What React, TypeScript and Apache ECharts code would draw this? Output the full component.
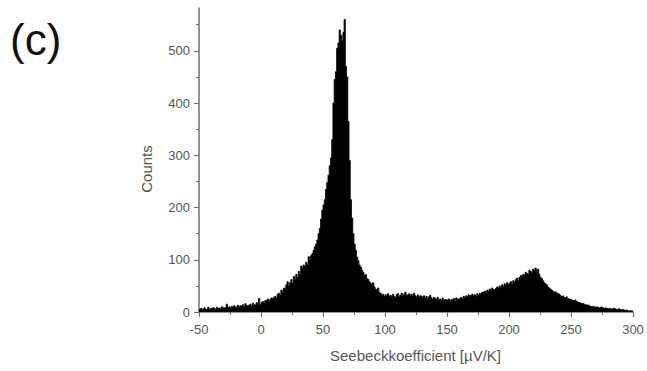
import React, { useEffect, useRef } from "react";
import * as echarts from "echarts";

// Histogram of Seebeck coefficients, bin width 1 µV/K, first bin starts at -50
const BIN_START = -50;
const BIN_WIDTH = 1;
const countsNeg50 = [5, 7, 4, 6, 8, 5, 6, 9, 5, 7];
const countsNeg40 = [6, 8, 7, 5, 9, 7, 8, 6, 10, 8];
const countsNeg30 = [7, 9, 15, 8, 10, 7, 11, 9, 12, 8];
const countsNeg20 = [10, 13, 9, 12, 11, 14, 10, 16, 12, 13];
const countsNeg10 = [12, 15, 11, 17, 14, 13, 18, 15, 26, 14];
const counts0 = [18, 20, 17, 22, 21, 25, 20, 24, 27, 25];
const counts10 = [28, 30, 27, 34, 36, 32, 42, 38, 46, 44];
const counts20 = [52, 58, 50, 56, 62, 55, 68, 62, 72, 66];
const counts30 = [78, 72, 88, 84, 90, 86, 95, 90, 106, 100];
const counts40 = [108, 112, 118, 125, 130, 138, 150, 160, 178, 195];
const counts50 = [205, 215, 235, 248, 262, 280, 295, 330, 400, 445];
const counts60 = [460, 505, 515, 540, 530, 520, 535, 560, 470, 450];
const counts70 = [365, 290, 215, 180, 150, 130, 118, 105, 98, 90];
const counts80 = [86, 80, 76, 70, 72, 64, 62, 58, 55, 52];
const counts90 = [56, 48, 44, 42, 46, 38, 36, 32, 34, 30];
const counts100 = [33, 31, 35, 30, 32, 29, 34, 30, 28, 33];
const counts110 = [35, 29, 32, 36, 30, 34, 38, 31, 33, 35];
const counts120 = [32, 34, 30, 36, 31, 29, 33, 28, 31, 30];
const counts130 = [28, 31, 27, 30, 26, 29, 32, 27, 25, 28];
const counts140 = [26, 24, 28, 23, 25, 22, 27, 21, 24, 23];
const counts150 = [22, 25, 20, 24, 23, 26, 21, 27, 25, 24];
const counts160 = [26, 28, 25, 30, 27, 31, 29, 33, 30, 32];
const counts170 = [34, 31, 33, 30, 35, 32, 36, 34, 38, 37];
const counts180 = [40, 38, 42, 39, 44, 41, 46, 43, 42, 45];
const counts190 = [48, 46, 50, 47, 52, 49, 54, 51, 56, 53];
const counts200 = [55, 58, 54, 60, 57, 62, 65, 60, 66, 70];
const counts210 = [68, 72, 70, 76, 74, 72, 80, 78, 75, 82];
const counts220 = [80, 84, 78, 82, 72, 66, 64, 60, 56, 54];
const counts230 = [52, 48, 46, 44, 42, 40, 38, 39, 36, 35];
const counts240 = [34, 32, 30, 31, 28, 27, 29, 26, 25, 24];
const counts250 = [23, 22, 21, 23, 20, 19, 18, 17, 16, 17];
const counts260 = [15, 14, 13, 14, 12, 11, 10, 11, 10, 9];
const counts270 = [10, 9, 8, 9, 10, 8, 7, 8, 7, 6];
const counts280 = [7, 6, 6, 5, 7, 6, 5, 4, 6, 5];
const counts290 = [4, 5, 4, 3, 4, 3, 2, 3, 2, 2];

const allCounts = [
  ...countsNeg50, ...countsNeg40, ...countsNeg30, ...countsNeg20, ...countsNeg10,
  ...counts0, ...counts10, ...counts20, ...counts30, ...counts40,
  ...counts50, ...counts60, ...counts70, ...counts80, ...counts90,
  ...counts100, ...counts110, ...counts120, ...counts130, ...counts140,
  ...counts150, ...counts160, ...counts170, ...counts180, ...counts190,
  ...counts200, ...counts210, ...counts220, ...counts230, ...counts240,
  ...counts250, ...counts260, ...counts270, ...counts280, ...counts290,
];

const xTicks = [-50, 0, 50, 100, 150, 200, 250, 300];
const yMajorTicks = [0, 100, 200, 300, 400, 500];
const yMinorTicks = [50, 150, 250, 350, 450, 550];
const Y_MAX = 582;

const panelLabel = "(c)";
const xTitle = "Seebeckkoefficient [µV/K]";
const yTitle = "Counts";

const FONT = "'Liberation Sans', Arial, Helvetica, sans-serif";
const AXIS_COLOR = "#707070";
const TEXT_COLOR = "#555555";

export default function App() {
  const ref = useRef<HTMLDivElement>(null);

  useEffect(() => {
    if (!ref.current) return;
    const chart = echarts.init(ref.current, null, { renderer: "svg" });
    // step outline: each bin's left edge with its count, closed at the last bin's right edge
    const data = allCounts.map((c, i) => [BIN_START + i * BIN_WIDTH, c]);
    data.push([BIN_START + allCounts.length * BIN_WIDTH, allCounts[allCounts.length - 1]]);

    chart.setOption({
      animation: false,
      backgroundColor: "#ffffff",
      grid: { left: 199, right: 14, top: 8, bottom: 59, containLabel: false },
      xAxis: {
        type: "value",
        min: xTicks[0],
        max: xTicks[xTicks.length - 1],
        interval: 50,
        axisLine: { show: true, onZero: false, lineStyle: { color: AXIS_COLOR, width: 1.5 } },
        axisTick: { show: true, length: 5, inside: false, lineStyle: { color: AXIS_COLOR, width: 1.2 } },
        minorTick: { show: true, splitNumber: 2, length: 3, lineStyle: { color: AXIS_COLOR, width: 1 } },
        axisLabel: { color: TEXT_COLOR, fontSize: 13, fontFamily: FONT, margin: 11 },
        splitLine: { show: false },
      },
      yAxis: [
        {
          type: "value",
          min: 0,
          max: Y_MAX,
          interval: 100,
          axisLine: { show: true, onZero: false, lineStyle: { color: AXIS_COLOR, width: 1.5 } },
          axisTick: { show: true, length: 5, customValues: yMajorTicks, lineStyle: { color: AXIS_COLOR, width: 1.2 } },
          axisLabel: { color: TEXT_COLOR, fontSize: 13, fontFamily: FONT, margin: 9, customValues: yMajorTicks },
          splitLine: { show: false },
        },
        {
          type: "value",
          min: 0,
          max: Y_MAX,
          position: "left",
          offset: 0,
          axisLine: { show: false, onZero: false },
          axisTick: { show: true, length: 3, customValues: yMinorTicks, lineStyle: { color: AXIS_COLOR, width: 1 } },
          axisLabel: { show: false },
          splitLine: { show: false },
        },
      ],
      series: [
        {
          type: "line",
          xAxisIndex: 0,
          yAxisIndex: 0,
          step: "end",
          data,
          symbol: "none",
          lineStyle: { color: "#000000", width: 0.8 },
          areaStyle: { color: "#000000", opacity: 1, origin: "start" },
          silent: true,
        },
      ],
      graphic: [
        {
          type: "text",
          left: 10,
          top: 17,
          style: { text: panelLabel, fontSize: 44, fontFamily: FONT, fill: "#111111" },
        },
        {
          type: "text",
          x: 415.5,
          y: 355,
          style: {
            text: xTitle,
            fontSize: 15,
            fontFamily: FONT,
            fill: TEXT_COLOR,
            align: "center",
            verticalAlign: "middle",
          },
        },
        {
          type: "text",
          x: 146.5,
          y: 169,
          rotation: Math.PI / 2,
          style: {
            text: yTitle,
            fontSize: 15,
            fontFamily: FONT,
            fill: TEXT_COLOR,
            align: "center",
            verticalAlign: "middle",
          },
        },
      ],
    });

    return () => chart.dispose();
  }, []);

  return (
    <div
      ref={ref}
      style={{ position: "fixed", left: 0, top: 0, width: 647, height: 371, background: "#fff" }}
    />
  );
}
